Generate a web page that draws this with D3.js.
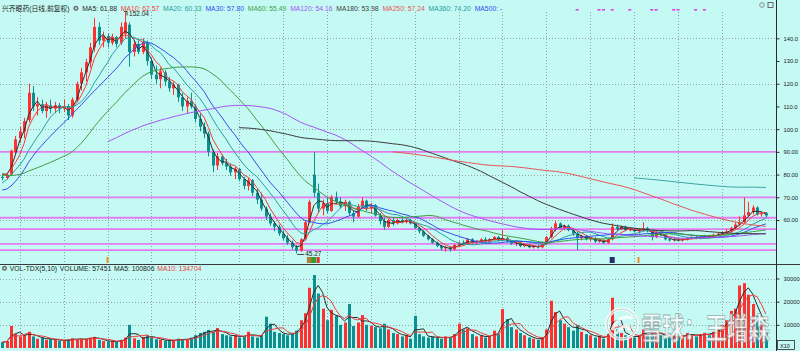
<!DOCTYPE html>
<html>
<head>
<meta charset="utf-8">
<title>兴齐眼药 日线</title>
<style>
  body, html { margin: 0; padding: 0; background: #c5faf4; }
  svg { display: block; font-family: "Liberation Sans", "Noto Sans CJK SC", sans-serif; }
</style>
</head>
<body>
<svg id="svg" width="800" height="351"></svg>
<script src="https://cdn.jsdelivr.net/npm/d3@7"></script>
<script>
// one candle = two trading days
const opens = [
  79, 78.5, 80, 90, 96, 99, 104, 116, 110, 111,
  108, 110.5, 109, 110.5, 109, 110, 106, 113, 120, 125,
  129.5, 136, 145, 139, 141, 138, 140.5, 138, 142, 146,
  134, 137.5, 134, 138, 130, 124, 122, 125, 121, 118,
  119.5, 114, 110, 112.5, 110, 104.5, 101, 98, 90, 84,
  88, 85, 83.5, 81, 82.5, 78, 75, 77.5, 72, 69,
  65, 61.5, 58.5, 57, 54, 52, 50, 48, 46.5, 51.5,
  59, 80, 72, 65, 67.5, 64, 70, 68, 66, 68,
  63, 61.5, 66, 68.5, 65, 66.5, 62, 59.5, 57, 60,
  58.5, 60, 59, 60, 58.5, 56.5, 55, 53, 51.5, 50,
  48.5, 47.5, 48, 47, 49, 50, 49.5, 51.5, 50, 50.5,
  51.5, 50.5, 51.5, 52.5, 51, 52, 50.5, 49.5, 50, 48.5,
  49, 48, 48.5, 48, 49.5, 52.5, 56, 58.5, 56.5, 57.5,
  55.5, 54, 52, 53, 51.5, 52, 50.5, 51, 50, 51.5,
  57, 56, 57, 55.5, 56, 55, 55.5, 56.5, 55, 52.5,
  54.5, 53.5, 51.5, 51, 51.5, 51, 51.5, 52, 52.5, 52,
  52.5, 53, 52.5, 53.5, 54, 54.5, 55, 56.5, 58, 59,
  62, 63.5, 65.5, 62.5, 63
];
const highs = [
  80, 80.5, 91, 97, 101, 105, 120, 119, 114, 113,
  112, 113, 112, 111.5, 113, 111, 114, 121, 127, 131,
  138, 149, 147, 143, 142, 142, 141, 147, 152.04, 147,
  139, 139, 140, 139, 131, 128, 127, 126, 123, 121,
  120, 116, 114, 116, 111, 107, 103, 99, 91, 89.5,
  89, 87, 85, 83.5, 83, 79, 78.5, 78, 74, 72,
  66, 63, 59.5, 58, 55.5, 53.5, 51, 49, 52, 60,
  69, 90, 76, 69, 70, 71, 72.5, 70, 69, 68.5,
  64, 67, 70, 69, 67.5, 67, 63, 61, 60.5, 61,
  60.5, 61, 60.5, 60.5, 59, 57, 55.5, 53.5, 52, 50.5,
  49, 48.5, 48.5, 49.5, 50.5, 51, 52, 52, 51, 52,
  52.5, 52, 53, 53, 55.6, 52.5, 51, 50.5, 50.5, 49.5,
  49.5, 49, 49, 50, 53, 57, 59.7, 59, 58, 58,
  56, 55, 53.5, 53.5, 52.5, 52.5, 51.5, 51.5, 52, 58.5,
  58, 57.5, 57.5, 56.5, 56.5, 56, 59, 57, 55.5, 55,
  55, 54, 52, 52, 52, 52, 52.5, 53, 53, 53,
  53.5, 53.5, 54, 54.5, 55, 56, 57, 59, 61.5, 70,
  68, 66.5, 66, 63.5, 63.5
];
const lows = [
  77.5, 77.8, 79.5, 89, 94, 96, 103, 108, 106, 107,
  105, 107, 107, 107, 107.5, 104, 105, 112, 117, 121,
  127, 134, 137, 136, 136, 137, 136, 137, 140, 127.5,
  132, 133, 133, 128, 122, 120, 118, 119, 116.5, 115,
  112, 108, 107, 109, 103, 99, 96, 88, 81, 82,
  84, 82, 79.5, 78, 77, 73.5, 73, 70.5, 67, 64,
  60, 57.5, 55, 53, 51, 49, 47, 45.27, 46, 51,
  58.5, 70, 63, 62, 63, 63.5, 67, 65, 64, 62,
  59, 61, 65, 64, 63, 61.5, 58, 55.6, 56.5, 57.5,
  58, 58.5, 58.5, 58, 56, 54, 52.5, 51, 49.5, 48,
  46.5, 46, 46, 46.5, 48, 49, 49, 49.5, 49, 50,
  50, 50, 51, 50.5, 50.5, 50, 49, 48.5, 48, 48,
  47.5, 47.5, 47.5, 47.5, 49, 52, 55, 56, 55.5, 55,
  53, 46.8, 51, 51, 50.5, 50, 50, 49.5, 49.5, 51,
  55.5, 55.5, 55, 55, 54.5, 54, 55, 54.5, 51, 52,
  53, 51, 50.5, 50.5, 50.5, 50.5, 51, 51.5, 51.5, 51.5,
  52, 52, 52, 53, 53.5, 54, 54.5, 56, 57.5, 58.5,
  61.5, 62.5, 62, 61.5, 61
];
const closes = [
  78.5, 80, 90.5, 95.5, 99, 103.5, 116, 110, 111, 108,
  110.5, 109, 110.5, 109, 110, 106, 113, 120, 125, 129.5,
  136, 145, 139, 141, 138, 140.5, 137.5, 145, 147, 134,
  137.5, 134, 138.5, 130, 124, 122, 125.5, 121, 118, 119.5,
  114, 110, 112.5, 110, 104.5, 101, 98, 90, 84, 88,
  85, 83.5, 81, 82.5, 78, 75, 77.5, 72, 69, 65,
  61.5, 58.5, 57, 54, 52, 50, 48, 46.5, 51.5, 59,
  68, 72, 65, 67.5, 64, 70, 68, 66, 68, 63,
  61.5, 66, 68.5, 65, 66.5, 62, 59.5, 57, 60, 58.5,
  60, 59, 60, 58.5, 56.5, 55, 53, 51.5, 50, 48.5,
  47.5, 48, 47, 49, 50, 49.5, 51.5, 50, 50.5, 51.5,
  50.5, 51.5, 52.5, 51, 52, 50.5, 49.5, 50, 48.5, 49,
  48, 48.5, 48, 49.5, 52.5, 56, 58.5, 56.5, 57.5, 55.5,
  54, 52, 53, 51.5, 52, 50.5, 51, 50, 51.5, 57,
  56, 57, 55.5, 56, 55, 55.5, 56.5, 55, 52.5, 54.5,
  53.5, 51.5, 51, 51.5, 51, 51.5, 52, 52.5, 52, 52.5,
  53, 52.5, 53.5, 54, 54.5, 55, 56.5, 58, 59, 62,
  63.5, 65.5, 62.5, 63, 62
];
const volumes = [
  2500, 3000, 9500, 6000, 5000, 5500, 7000, 5000, 4000, 4500,
  3500, 4000, 3500, 3200, 3000, 3800, 4200, 3500, 4000, 3800,
  4500, 4800, 3500, 3000, 2800, 3000, 2600, 3500, 4500, 10000,
  4200, 3500, 4800, 5500, 4500, 3800, 3500, 3200, 3000, 3500,
  4000, 3500, 3800, 4500, 5500, 6500, 7000, 7800, 7000, 8600,
  6000, 5500, 5000, 5500, 4500, 5000, 7000, 5000, 4500, 5500,
  13500, 10500, 7000, 6500, 6000, 5500, 6500, 7500, 12000, 15000,
  26000, 31500, 23500, 17000, 12000, 16500, 14000, 10000, 11000, 19000,
  9500, 11000, 14200, 10000, 9500, 9000, 8500, 10500, 8000, 6500,
  6000, 5000, 5500, 4000, 13900, 6000, 5000, 4500, 5000, 4500,
  4000, 5000, 4500, 6000, 10500, 8000, 8500, 6000, 5000, 5500,
  4500, 5000, 7500, 6000, 16800, 12500, 9000, 8000, 6500, 5500,
  4500, 4000, 3500, 4500, 8000, 20400, 15500, 12000, 10500, 9000,
  7500, 10000, 7000, 6000, 5500, 4500, 5000, 4000, 6000, 21700,
  8000, 6500, 5500, 5000, 4500, 5500, 8000, 6000, 7000, 6500,
  5500, 5000, 4500, 5000, 4500, 5500, 6500, 5500, 5000, 6000,
  6500, 5500, 7000, 8000, 10000, 12000, 16000, 17000, 27000, 28000,
  23000, 19000, 14000, 10000, 7500
];
// closes before the visible window, needed by the long averages
const histCloses = [
  84, 85, 87, 86, 87, 86, 88, 89, 90, 88,
  87, 89, 90, 88, 86, 85, 86, 84, 83, 82,
  81, 74, 70, 66, 63, 62, 66, 70, 73, 76,
  78, 79, 80, 81, 81.5
];

const maPeriods = [5, 10, 20, 30, 60, 120, 180, 250, 360];
const maLast = ['61.88', '62.57', '60.33', '57.80', '55.49', '54.16', '53.98', '57.24', '74.20'];
const maColors = ['#2b2b2b', '#f03a3a', '#26a0a0', '#2f4ff0', '#3f9f3f', '#a455f5', '#3a3a3a', '#e85555', '#3aa2a2'];
const volPeriods = [5, 10];
const volColors = ['#2b2b2b', '#f03a3a'];

const priceTicks = [60, 70, 80, 90, 100, 110, 120, 130, 140];
const priceGrid = [60, 80, 100, 120, 140];
const supportLines = [90, 70, 61, 56, 49.5, 46.7];
const volTicks = [10000, 20000, 30000];
const topMarks = [131, 136, 137, 139, 143, 148, 149, 153, 154, 158, 160];
const events = [
  {i: 24, color: '#f0902a', w: 2},
  {i: 70, color: '#b87a3a', w: 5},
  {i: 71, color: '#2ea02e', w: 5},
  {i: 72, color: '#e83030', w: 3},
  {i: 139, color: '#223070', w: 5},
  {i: 145, color: '#f0902a', w: 2}
];

const W = 800, H = 351, plotRight = 776;
const red = '#ff3030', teal = '#0f9090';
const svg = d3.select('#svg');

svg.append('rect').attr('width', W).attr('height', H).attr('fill', '#c5faf4');

const x = d3.scaleLinear().domain([-0.5, closes.length - 0.5]).range([0, 768]);
const y = d3.scaleLinear().domain([60, 140]).range([220, 38.3]);
const yVol = d3.scaleLinear().domain([0, 30000]).range([348, 278.5]);

const candles = closes.map((c, i) => ({
  i, o: opens[i], h: highs[i], l: lows[i], c, v: volumes[i], up: c >= opens[i]
}));

// moving averages: a candle holds two days, so the window is half the period
const allCloses = histCloses.concat(closes);
function movingAvg(period) {
  const w = Math.round(period / 2);
  return closes.map((c, i) => {
    const end = i + histCloses.length;
    if (end - w + 1 < 0) return null;
    return d3.mean(allCloses.slice(end - w + 1, end + 1));
  });
}
function volAvg(period) {
  const w = Math.round(period / 2);
  return volumes.map((v, i) => d3.mean(volumes.slice(Math.max(0, i - w + 1), i + 1)));
}

const gridIdx = d3.range(4, closes.length - 5, 10);

// clip paths
const defs = svg.append('defs');
defs.append('clipPath').attr('id', 'clipMain')
  .append('rect').attr('x', 0).attr('y', 12).attr('width', plotRight).attr('height', 252);
defs.append('clipPath').attr('id', 'clipVol')
  .append('rect').attr('x', 0).attr('y', 272).attr('width', plotRight).attr('height', 77);

// grids
const grid = svg.append('g')
  .attr('stroke', '#8fa3a3').attr('stroke-width', 1).attr('stroke-dasharray', '1,2');
grid.selectAll('.vg1').data(gridIdx).join('line')
  .attr('x1', d => Math.round(x(d)) + 0.5).attr('x2', d => Math.round(x(d)) + 0.5)
  .attr('y1', 12).attr('y2', 264);
grid.selectAll('.vg2').data(gridIdx).join('line')
  .attr('x1', d => Math.round(x(d)) + 0.5).attr('x2', d => Math.round(x(d)) + 0.5)
  .attr('y1', 274).attr('y2', 348);
grid.selectAll('.hg').data(priceGrid).join('line')
  .attr('x1', 0).attr('x2', plotRight)
  .attr('y1', d => Math.round(y(d)) + 0.5).attr('y2', d => Math.round(y(d)) + 0.5);
grid.selectAll('.hv').data(volTicks).join('line')
  .attr('x1', 0).attr('x2', plotRight)
  .attr('y1', d => Math.round(yVol(d)) + 0.5).attr('y2', d => Math.round(yVol(d)) + 0.5);

// magenta drawn lines
svg.append('g').selectAll('line').data(supportLines).join('line')
  .attr('x1', 0).attr('x2', plotRight)
  .attr('y1', d => y(d)).attr('y2', d => y(d))
  .attr('stroke', '#e27cf0').attr('stroke-width', 1.8);

// candles
const main = svg.append('g').attr('clip-path', 'url(#clipMain)');
const cg = main.append('g');
cg.selectAll('.wick').data(candles).join('line')
  .attr('x1', d => Math.round(x(d.i)) + 0.5).attr('x2', d => Math.round(x(d.i)) + 0.5)
  .attr('y1', d => y(d.h)).attr('y2', d => y(d.l))
  .attr('stroke', d => d.up ? red : teal).attr('stroke-width', 1);
cg.selectAll('.body').data(candles).join('rect')
  .attr('x', d => Math.round(x(d.i)) - 1)
  .attr('width', 3)
  .attr('y', d => y(Math.max(d.o, d.c)))
  .attr('height', d => Math.max(1, Math.abs(y(d.o) - y(d.c))))
  .attr('fill', d => d.up ? red : teal);

// MA lines
const maLine = d3.line()
  .defined(d => d != null)
  .x((d, i) => x(i))
  .y(d => y(d));
maPeriods.forEach((p, k) => {
  main.append('path')
    .datum(movingAvg(p))
    .attr('d', maLine)
    .attr('fill', 'none')
    .attr('stroke', maColors[k])
    .attr('stroke-width', 1);
});

// high / low labels
const hiIdx = d3.maxIndex(highs), loIdx = d3.minIndex(lows);
const labels = svg.append('g').attr('font-size', 6.5).attr('fill', '#1a1a1a');
labels.append('path')
  .attr('d', `M${x(hiIdx) - 1},${y(highs[hiIdx]) + 0.5}h3v4`)
  .attr('fill', 'none').attr('stroke', '#1a1a1a').attr('stroke-width', 0.8);
labels.append('text').attr('x', x(hiIdx) + 4).attr('y', y(highs[hiIdx]) + 5.5)
  .text(highs[hiIdx].toFixed(2));
labels.append('line')
  .attr('x1', x(loIdx) + 1).attr('x2', x(loIdx) + 8)
  .attr('y1', y(lows[loIdx]) + 1).attr('y2', y(lows[loIdx]) + 1)
  .attr('stroke', '#1a1a1a').attr('stroke-width', 0.8);
labels.append('text').attr('x', x(loIdx) + 9).attr('y', y(lows[loIdx]) + 3)
  .text(lows[loIdx].toFixed(2));

// event icons at the bottom of the price panel, markers along the top
svg.append('g').selectAll('rect').data(events).join('rect')
  .attr('x', d => x(d.i) - d.w / 2).attr('y', 257).attr('width', d => d.w).attr('height', 6)
  .attr('fill', d => d.color);
svg.append('g').selectAll('rect').data(topMarks).join('rect')
  .attr('x', d => x(d) - 1.5).attr('y', 9).attr('width', 3).attr('height', 1.6)
  .attr('fill', '#e040e0');

// panel divider
svg.append('line').attr('x1', 0).attr('x2', W).attr('y1', 264.5).attr('y2', 264.5)
  .attr('stroke', '#3a3a3a').attr('stroke-width', 1);

// volume
const vol = svg.append('g').attr('clip-path', 'url(#clipVol)');
vol.selectAll('rect').data(candles).join('rect')
  .attr('x', d => Math.round(x(d.i)) - 1)
  .attr('width', 3)
  .attr('y', d => yVol(d.v))
  .attr('height', d => yVol(0) - yVol(d.v))
  .attr('fill', d => d.up ? red : teal);
volPeriods.forEach((p, k) => {
  vol.append('path')
    .datum(volAvg(p))
    .attr('d', d3.line().x((d, i) => x(i)).y(d => yVol(d)))
    .attr('fill', 'none')
    .attr('stroke', volColors[k])
    .attr('stroke-width', 1);
});

// watermark
const wm = svg.append('g').attr('opacity', 0.8);
wm.append('circle').attr('cx', 622).attr('cy', 324).attr('r', 15)
  .attr('fill', 'none').attr('stroke', '#ffffff').attr('stroke-width', 3.5);
wm.append('circle').attr('cx', 622).attr('cy', 324).attr('r', 15)
  .attr('fill', 'none').attr('stroke', '#8a9e9e').attr('stroke-width', 0.6);
wm.append('path').attr('d', 'M612,330 Q618,314 632,318 M616,334 Q626,320 630,330')
  .attr('fill', 'none').attr('stroke', '#ffffff').attr('stroke-width', 3);
wm.append('text')
  .attr('transform', 'translate(641,339) scale(1,1.4)')
  .attr('font-family', '"Noto Sans CJK SC", sans-serif')
  .attr('font-size', 21.5).attr('font-weight', 'bold')
  .attr('fill', '#ffffff').attr('stroke', '#8a9e9e').attr('stroke-width', 0.6)
  .text('雪球：王增森');

// right axes
svg.append('line').attr('x1', plotRight + 0.5).attr('x2', plotRight + 0.5)
  .attr('y1', 0).attr('y2', H).attr('stroke', '#2a2a2a');
const fmtPrice = v => v >= 100 ? v.toFixed(1) : v.toFixed(2);
const yAxis = svg.append('g').attr('transform', `translate(${plotRight + 0.5},0)`)
  .call(d3.axisRight(y).tickValues(priceTicks).tickSize(3).tickPadding(4).tickFormat(fmtPrice));
const volAxis = svg.append('g').attr('transform', `translate(${plotRight + 0.5},0)`)
  .call(d3.axisRight(yVol).tickValues(volTicks).tickSize(3).tickPadding(4).tickFormat(d3.format('d')));
[yAxis, volAxis].forEach(g => {
  g.select('.domain').remove();
  g.selectAll('text').attr('font-size', 5.8).attr('fill', '#1a1a1a')
    .attr('font-family', '"Liberation Sans", sans-serif');
  g.selectAll('line').attr('stroke', '#2a2a2a');
});
svg.append('rect').attr('x', 777.5).attr('y', 340.5).attr('width', 17).attr('height', 9)
  .attr('fill', 'none').attr('stroke', '#2a2a2a').attr('stroke-width', 0.8);
svg.append('text').attr('x', 780).attr('y', 347.5).attr('font-size', 5.6).attr('fill', '#1a1a1a')
  .text('X10');

// title legends
function legend(items, x0, baseline, gap) {
  const g = svg.append('g').attr('font-size', 6.8);
  let cx = x0;
  items.forEach(it => {
    if (it.icon) {
      g.append('circle').attr('cx', cx + 2.5).attr('cy', baseline - 2.2).attr('r', 2.5).attr('fill', '#6e6e6e');
      g.append('circle').attr('cx', cx + 2.5).attr('cy', baseline - 2.2).attr('r', 1).attr('fill', '#c5faf4');
      cx += 5 + gap;
      return;
    }
    const t = g.append('text').attr('x', cx).attr('y', baseline).attr('fill', it.color).text(it.text);
    cx += t.node().getComputedTextLength() + gap;
  });
}
const mainItems = [{text: '兴齐眼药(日线,前复权)', color: '#1a1a1a'}, {icon: true}]
  .concat(maPeriods.map((p, k) => ({text: `MA${p}: ${maLast[k]}`, color: maColors[k]})))
  .concat([{text: 'MA500: -', color: '#2f4ff0'}]);
mainItems[mainItems.length - 2].color = '#1f9a9a';
legend(mainItems, 2, 10.5, 3.8);
legend([
  {icon: true},
  {text: 'VOL-TDX(5,10)', color: '#1a1a1a'},
  {text: 'VOLUME: 57451', color: '#1a1a1a'},
  {text: 'MA5: 100806', color: '#1a1a1a'},
  {text: 'MA10: 134704', color: '#f03a3a'}
], 2, 270.5, 2.8);

// small tool icons in the top-right corner
svg.append('circle').attr('cx', 762).attr('cy', 5).attr('r', 2.3)
  .attr('fill', 'none').attr('stroke', '#8a8a8a').attr('stroke-width', 1);
svg.append('rect').attr('x', 768).attr('y', 2.5).attr('width', 5).attr('height', 5)
  .attr('fill', 'none').attr('stroke', '#6a6a6a').attr('stroke-width', 1);
</script>
</body>
</html>
